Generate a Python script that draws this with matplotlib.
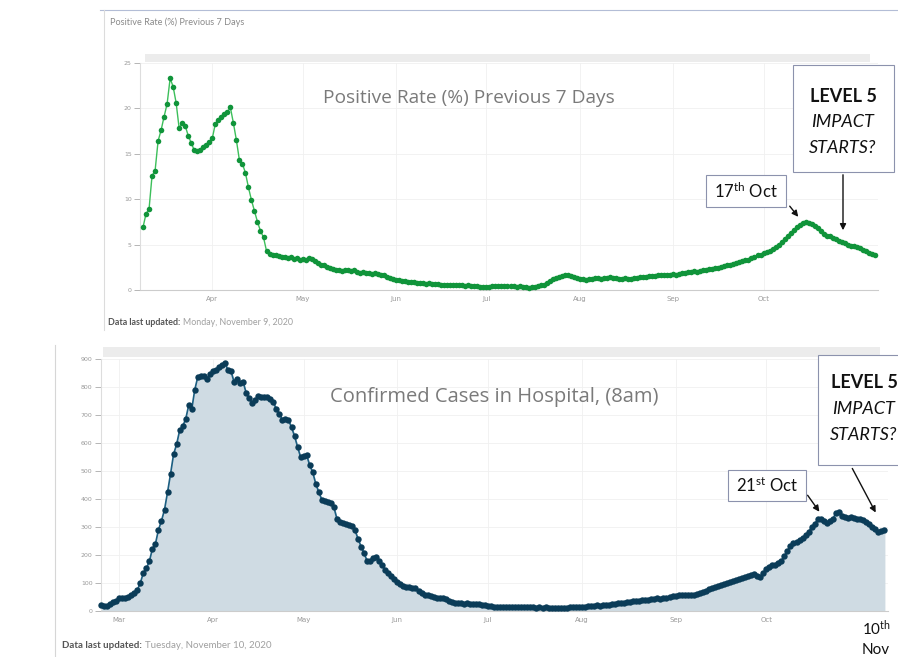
import matplotlib
matplotlib.use('Agg')
import matplotlib.pyplot as plt
import matplotlib.dates as mdates
from matplotlib.patches import Rectangle, FancyArrowPatch
from matplotlib.lines import Line2D
import numpy as np
import pandas as pd

# taxa de positividade (%) - media dos 7 dias anteriores, um valor por dia a partir de 9 de marco
inicio_taxa = '2020-03-09'
taxa_positiva = [
    6.9, 8.4, 8.9, 12.6, 13.1, 16.4, 17.6, 19.1, 20.5, 23.3,
    22.4, 20.6, 17.8, 18.4, 18.1, 17.0, 16.2, 15.4, 15.3, 15.4,
    15.7, 16.0, 16.3, 16.7, 18.3, 18.7, 19.0, 19.4, 19.6, 20.1,
    18.4, 16.5, 14.3, 13.9, 12.9, 11.3, 9.9, 8.7, 7.5, 6.5,
    5.8, 4.3, 4.0,
    3.9, 3.8, 3.7, 3.6, 3.6, 3.5, 3.6, 3.4, 3.5, 3.3,
    3.4, 3.3, 3.5, 3.4, 3.2, 3.0, 2.8, 2.7, 2.5, 2.4,
    2.3, 2.2, 2.2, 2.1, 2.2, 2.2, 2.1, 2.2, 2.0, 1.9,
    2.0, 1.9, 1.9, 1.8, 1.9, 1.8, 1.7, 1.6, 1.4, 1.3,
    1.2, 1.1, 1.1, 1.0, 1.0, 0.9, 0.9, 0.9, 0.8, 0.8,
    0.8, 0.7, 0.8, 0.7, 0.7, 0.7, 0.6, 0.6, 0.6, 0.5,
    0.6, 0.5, 0.5, 0.5, 0.4, 0.5, 0.4, 0.4, 0.4, 0.3,
    0.3, 0.3, 0.3, 0.4, 0.4, 0.4, 0.4, 0.4,
    0.4, 0.4, 0.4, 0.3, 0.4, 0.3, 0.3, 0.2, 0.3,
    0.3, 0.4, 0.5, 0.6, 0.8, 1.0, 1.2, 1.3, 1.4, 1.5,
    1.6, 1.6, 1.5, 1.4, 1.3, 1.2, 1.2, 1.1, 1.2, 1.2,
    1.3, 1.3, 1.2, 1.3, 1.3, 1.4, 1.3, 1.3, 1.2, 1.2,
    1.3, 1.2, 1.2, 1.3, 1.3, 1.4, 1.4, 1.4, 1.5, 1.5,
    1.5, 1.6, 1.6, 1.7, 1.6, 1.7, 1.8, 1.7, 1.8, 1.9,
    1.9, 2.0, 2.0, 2.1, 2.0, 2.1, 2.2, 2.2, 2.3, 2.3,
    2.4, 2.4, 2.5, 2.6, 2.7, 2.8, 2.9, 3.0, 3.1, 3.2,
    3.3, 3.3, 3.5, 3.6, 3.8, 3.9, 4.1, 4.2, 4.3, 4.5,
    4.7, 5.0, 5.3, 5.6, 6.0, 6.3, 6.6, 6.9, 7.2, 7.4,
    7.5, 7.4, 7.3, 7.0, 6.8, 6.5, 6.2, 6.0, 5.9, 5.7,
    5.6, 5.4, 5.3, 5.2, 5.0, 4.9, 4.8, 4.7, 4.6, 4.4,
    4.3, 4.1, 4.0, 3.9]

# casos confirmados no hospital (8h), um valor por dia a partir de 24 de fevereiro
inicio_hosp = '2020-02-24'
casos_hospital = [
    21, 18, 18, 25, 31, 37, 45, 48, 46, 50,
    58, 66, 75, 100, 136, 152, 178, 222, 240, 290,
    322, 362, 424, 490, 560, 595, 645, 660, 685, 735,
    720, 790, 836, 839, 838, 829, 845, 857, 862, 871,
    878, 886, 860, 856, 818, 829, 815, 818, 779, 760,
    743, 752, 768, 764, 765, 764, 758, 746, 720, 705,
    682, 684, 682, 656, 625, 586, 550, 552, 557, 521,
    496, 455, 425, 398, 392, 389, 385, 371, 330, 318,
    314, 312, 307, 305, 288, 258, 230, 207, 178, 180,
    188, 192, 178, 165, 145, 135, 125, 114, 105, 98,
    90, 86, 84, 83, 82, 72, 64, 58, 56, 54,
    50, 46, 48, 48, 42, 36, 32, 29, 28, 28,
    26, 27, 25, 26, 25, 24, 22, 21, 19, 17,
    15, 16, 15, 14, 15, 14, 16, 14, 13, 15,
    14, 13, 14, 13, 12, 13, 12, 13, 12, 11,
    12, 10, 11, 9, 12, 13, 14, 13, 15, 16,
    15, 17, 18, 18, 20, 19, 22, 21, 23, 25,
    26, 28, 29, 30, 32, 31, 34, 35, 37, 38,
    40, 39, 42, 43, 45, 44, 47, 48, 50, 52,
    55, 56, 57, 57, 58, 56, 57, 60, 63, 67,
    72, 78, 83, 85, 88, 92, 97, 100, 104, 108,
    111, 114, 118, 122, 126, 128, 131, 126, 122, 135,
    150, 158, 164, 166, 170, 180, 196, 215, 232, 242,
    248, 255, 262, 270, 282, 300, 310, 328, 330, 320,
    316, 320, 328, 350, 352, 340, 335, 333, 334, 332,
    330, 329, 325, 318, 310, 300, 292, 282, 286, 289]

ticks_taxa = [0, 5, 10, 15, 20, 25]
ticks_hosp = [0, 100, 200, 300, 400, 500, 600, 700, 800, 900]

titulo_taxa = 'Positive Rate (%) Previous 7 Days'
titulo_hosp = 'Confirmed Cases in Hospital, (8am)'
atualizado_taxa = 'Monday, November 9, 2020'
atualizado_hosp = 'Tuesday, November 10, 2020'

W, H = 898, 657
plt.rcParams['mathtext.default'] = 'regular'
fonte = 'Lato'
fonte_titulo = 'Open Sans'

fig = plt.figure(figsize=(W/100, H/100), dpi=100)
fig.patch.set_facecolor('white')
renderer = fig.canvas.get_renderer()

# converte pixels (a partir do canto superior esquerdo) em fracao da figura
def px(x, y):
    return (x/W, 1 - y/H)

def caixa(x0, y0, x1, y1):
    return [x0/W, 1 - y1/H, (x1 - x0)/W, (y1 - y0)/H]

def retangulo(x0, y0, x1, y1, fc, ec, lw=0.8):
    fig.patches.append(Rectangle(px(x0, y1), (x1 - x0)/W, (y1 - y0)/H,
                                 transform=fig.transFigure, facecolor=fc,
                                 edgecolor=ec, linewidth=lw))

def linha(x0, y0, x1, y1, cor, lw=0.8):
    fig.lines.append(Line2D([x0/W, x1/W], [1 - y0/H, 1 - y1/H],
                            transform=fig.transFigure, color=cor, linewidth=lw))

def seta(x0, y0, x1, y1):
    fig.add_artist(FancyArrowPatch(
        px(x0, y0), px(x1, y1), transform=fig.transFigure,
        arrowstyle='-|>', mutation_scale=9, color='#111111', linewidth=1.0))

# "Data last updated:" em negrito seguido da data em cinza claro
def atualizado(x, y, data, tamanho):
    t = fig.text(*px(x, y), 'Data last updated:', fontsize=tamanho, color='#555555',
                 fontweight='bold', va='center', family=fonte)
    largura = t.get_window_extent(renderer).width
    fig.text(*px(x + largura + 3, y), data, fontsize=tamanho, color='#a0a0a0',
             va='center', family=fonte)

def nivel5(xc, y0, tamanho):
    fig.text(*px(xc, y0), 'LEVEL 5', fontsize=tamanho, fontweight='bold', ha='center',
             va='center', color='#111111', family=fonte)
    fig.text(*px(xc, y0 + 26), 'IMPACT', fontsize=tamanho, style='italic', ha='center',
             va='center', color='#111111', family=fonte)
    fig.text(*px(xc, y0 + 52), 'STARTS?', fontsize=tamanho, style='italic', ha='center',
             va='center', color='#111111', family=fonte)

def estilo_eixo(ax, ticks):
    for lado in ['top', 'right']:
        ax.spines[lado].set_visible(False)
    ax.spines['left'].set_color('#dddddd')
    ax.spines['bottom'].set_color('#cccccc')
    ax.set_yticks(ticks)
    ax.tick_params(axis='y', labelsize=4.5, colors='#999999', length=4, width=0.5, pad=2)
    ax.tick_params(axis='x', labelsize=5, colors='#999999', length=0, pad=4)
    ax.grid(True, color='#f0f0f0', linewidth=0.6)
    ax.set_axisbelow(True)
    ax.xaxis.set_major_formatter(mdates.DateFormatter('%b'))

# moldura das capturas de tela
linha(100, 10, 898, 10, '#b3bdd6')
linha(104, 10, 104, 330, '#dcdcdc')
linha(55, 345, 55, 657, '#d6d6d6')

# ---------- grafico de cima: taxa de positividade ----------
datas_taxa = pd.date_range(inicio_taxa, periods=len(taxa_positiva), freq='D')
ax1 = fig.add_axes(caixa(140, 63, 878, 290))
estilo_eixo(ax1, ticks_taxa)
ax1.plot(datas_taxa, taxa_positiva, '-', color='#3cbf5a', linewidth=1.0, zorder=3)
ax1.plot(datas_taxa, taxa_positiva, 'o', color='#10943a', markersize=4.0,
         markeredgewidth=0, zorder=4, clip_on=False)
ax1.set_xlim(pd.Timestamp('2020-03-08'), pd.Timestamp('2020-11-08'))
ax1.set_ylim(0, 25)
ax1.xaxis.set_major_locator(mdates.MonthLocator(bymonth=range(4, 11)))

retangulo(145, 54, 870, 62, '#ececec', 'none')
fig.text(*px(110, 22), titulo_taxa, fontsize=6.6, color='#8a8a8a', va='center', family=fonte)
fig.text(*px(323, 98), titulo_taxa, fontsize=13.8, color='#7a7a7a', va='center',
         family=fonte_titulo)
atualizado(108, 323, atualizado_taxa, 6.4)

# anotacoes de cima
retangulo(706, 175, 786, 207, 'white', '#8c92ad')
fig.text(*px(746, 191), '17$^{th}$ Oct', fontsize=12, ha='center', va='center',
         color='#111111', family=fonte)
seta(788, 204, 800, 219)
retangulo(793, 65, 894, 172, 'white', '#8c92ad')
nivel5(843, 96, 13)
seta(843, 172, 843, 233)

# ---------- grafico de baixo: casos no hospital ----------
datas_hosp = pd.date_range(inicio_hosp, periods=len(casos_hospital), freq='D')
ax2 = fig.add_axes(caixa(101, 359, 888, 611))
estilo_eixo(ax2, ticks_hosp)
ax2.fill_between(datas_hosp, casos_hospital, color='#cfdbe3', zorder=2)
ax2.plot(datas_hosp, casos_hospital, '-', color='#1d5f82', linewidth=1.2, zorder=3)
ax2.plot(datas_hosp, casos_hospital, 'o', color='#0b3c58', markersize=4.6,
         markeredgewidth=0, zorder=4, clip_on=False)
ax2.set_xlim(pd.Timestamp('2020-02-24'), pd.Timestamp('2020-11-10 06:00'))
ax2.set_ylim(0, 900)
ax2.xaxis.set_major_locator(mdates.MonthLocator(bymonth=range(3, 11)))

retangulo(103, 347, 880, 357, '#ececec', 'none')
fig.text(*px(330, 397), titulo_hosp, fontsize=14.5, color='#7a7a7a', va='center',
         family=fonte_titulo)
atualizado(62, 645, atualizado_hosp, 7)

# anotacoes de baixo
retangulo(728, 470, 806, 501, 'white', '#8c92ad')
fig.text(*px(767, 486), '21$^{st}$ Oct', fontsize=12, ha='center', va='center',
         color='#111111', family=fonte)
seta(806, 493, 821, 514)
retangulo(818, 355, 910, 465, 'white', '#8c92ad')
nivel5(864, 383, 13)
seta(851, 466, 877, 515)

fig.text(*px(862, 628), '10$^{th}$', fontsize=11, va='center', color='#111111', family=fonte)
fig.text(*px(862, 650), 'Nov', fontsize=11, va='center', color='#111111', family=fonte)

plt.savefig('out.png', dpi=100)
